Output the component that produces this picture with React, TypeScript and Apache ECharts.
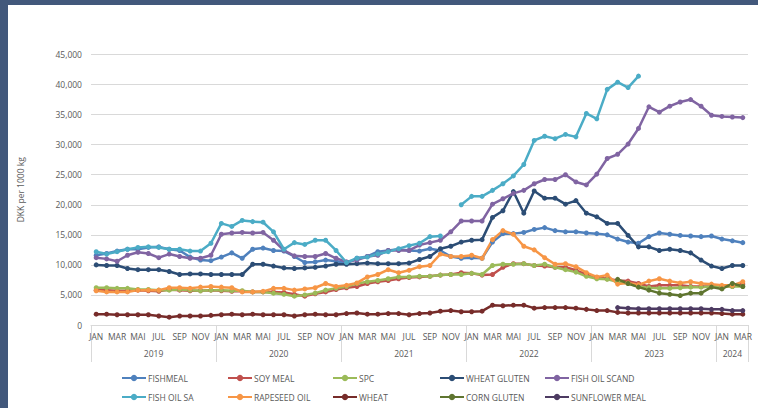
import React, { useEffect, useRef } from 'react';
import * as echarts from 'echarts';

const monthNames = ['JAN', 'FEB', 'MAR', 'APR', 'MAI', 'JUN', 'JUL', 'AUG', 'SEP', 'OKT', 'NOV', 'DEC'];
const years = ['2019', '2020', '2021', '2022', '2023', '2024'];
const monthsPerYear = [12, 12, 12, 12, 12, 3];
const yTicks = [0, 5000, 10000, 15000, 20000, 25000, 30000, 35000, 40000, 45000];

const fishmeal = [
  11600, 11900, 12300, 12600, 12600, 12900, 13000, 12600, 12400, 11300, 10800, 10700,
  11300, 12000, 11100, 12600, 12800, 12400, 12300, 11400, 10400, 10500, 10800, 10600,
  10300, 11100, 11400, 12200, 12400, 12600, 12400, 12300, 12700, 12400, 11400, 11100,
  11200, 11100, 13800, 15200, 15200, 15400, 15900, 16200, 15700, 15500, 15500, 15300,
  15200, 15000, 14300, 13800, 13600, 14700, 15300, 15100, 14900, 14800, 14700, 14800,
  14300, 14000, 13700,
];
const soyMeal = [
  5800, 5800, 5700, 5700, 5800, 5700, 5600, 5900, 5800, 5700, 5700, 5800,
  5700, 5600, 5600, 5500, 5500, 5500, 5400, 5100, 4800, 5200, 5500, 5900,
  6200, 6400, 6900, 7200, 7400, 7700, 7900, 8000, 8100, 8300, 8400, 8700,
  8600, 8300, 8400, 9600, 10200, 10200, 9900, 9800, 9600, 9600, 9100, 8400,
  7900, 7700, 7400, 7300, 6900, 6400, 6600, 6600, 6600, 6400, 6400, 6400,
  6400, 6400, 6800,
];
const spc = [
  6200, 6200, 6100, 6100, 5900, 5900, 5800, 5800, 5900, 5800, 5700, 5800,
  5800, 5700, 5700, 5500, 5500, 5300, 5100, 4800, 5000, 5300, 5800, 6100,
  6400, 6900, 7200, 7400, 7700, 8000, 8000, 8100, 8100, 8300, 8400, 8400,
  8600, 8400, 9900, 10100, 10100, 10200, 9900, 10100, 9600, 9200, 8800, 8100,
  7700, 7600, 7200, 6900, 6400, 6200, 6100, 6100, 6200, 6300, 6300, 6400,
  6400, 6400, 6400,
];
const wheatGluten = [
  10000, 9900, 9900, 9400, 9200, 9200, 9200, 8900, 8400, 8500, 8500, 8400,
  8400, 8400, 8400, 10100, 10100, 9800, 9500, 9400, 9500, 9600, 9800, 10100,
  10100, 10200, 10300, 10200, 10200, 10200, 10300, 10900, 11400, 12700, 13100, 13800,
  14100, 14200, 17900, 19000, 22200, 18600, 22300, 21100, 21100, 20100, 20700, 18600,
  18000, 16900, 16900, 14900, 13000, 13000, 12400, 12600, 12400, 12000, 10800, 9800,
  9400, 9900, 9900,
];
const fishOilScand = [
  11200, 11000, 10600, 11600, 12100, 11900, 11200, 11800, 11400, 11100, 11100, 11600,
  15100, 15300, 15400, 15300, 15400, 14100, 12400, 11500, 11400, 11400, 11900, 11100,
  10500, 10800, 11400, 11600, 12400, 12400, 12400, 13300, 13700, 14100, 15500, 17300,
  17300, 17300, 20100, 21000, 21900, 22400, 23500, 24200, 24200, 25000, 23800, 23300,
  25100, 27700, 28400, 30100, 32700, 36300, 35400, 36400, 37100, 37500, 36400, 34900,
  34700, 34600, 34500,
];
const fishOilSa = [
  12200, 11800, 12200, 12600, 12900, 13000, 12900, 12600, 12600, 12300, 12300, 13600,
  16900, 16400, 17400, 17200, 17100, 15500, 12600, 13700, 13400, 14100, 14100, 12400,
  10400, 11100, 11300, 11800, 12200, 12700, 13200, 13600, 14700, 14800, null, 20000,
  21400, 21400, 22400, 23500, 24800, 26700, 30700, 31400, 31000, 31700, 31300, 35200,
  34300, 39200, 40400, 39500, 41400, null, null, null, null, null, null, null,
  null, null, null,
];
const rapeseedOil = [
  5700, 5500, 5500, 5500, 5800, 5800, 5800, 6200, 6200, 6100, 6300, 6400,
  6300, 6200, 5500, 5500, 5600, 6100, 6100, 5800, 6000, 6200, 6900, 6400,
  6600, 7000, 8000, 8400, 9200, 8700, 9100, 9700, 9900, 11800, 11400, 11400,
  11600, 11100, 14200, 15700, 15100, 13100, 12500, 11200, 10100, 10200, 9700, 8700,
  8000, 8300, 6800, 7000, 6700, 7300, 7700, 7300, 7000, 7200, 6900, 6800,
  6600, 6600, 7200,
];
const wheat = [
  1800, 1800, 1700, 1700, 1700, 1700, 1500, 1300, 1500, 1500, 1500, 1600,
  1700, 1800, 1700, 1800, 1700, 1700, 1700, 1500, 1700, 1800, 1700, 1700,
  1900, 2000, 1800, 1800, 1900, 1900, 1700, 1900, 2000, 2300, 2400, 2200,
  2200, 2300, 3300, 3200, 3300, 3300, 2800, 2900, 2900, 2900, 2800, 2600,
  2400, 2400, 2100, 2000, 2000, 2000, 2000, 2000, 2000, 2000, 2000, 2000,
  1900, 1800, 1800,
];
const cornGluten = [
  null, null, null, null, null, null, null, null, null, null, null, null,
  null, null, null, null, null, null, null, null, null, null, null, null,
  null, null, null, null, null, null, null, null, null, null, null, null,
  null, null, null, null, null, null, null, null, null, null, null, null,
  null, null, 7600, 6900, 6300, 5800, 5300, 5100, 4900, 5300, 5300, 6300,
  6000, 6900, 6400,
];
const sunflowerMeal = [
  null, null, null, null, null, null, null, null, null, null, null, null,
  null, null, null, null, null, null, null, null, null, null, null, null,
  null, null, null, null, null, null, null, null, null, null, null, null,
  null, null, null, null, null, null, null, null, null, null, null, null,
  null, null, 2900, 2800, 2700, 2700, 2700, 2700, 2700, 2700, 2700, 2600,
  2600, 2400, 2400,
];

const seriesNames = ['FISHMEAL', 'SOY MEAL', 'SPC', 'WHEAT GLUTEN', 'FISH OIL SCAND', 'FISH OIL SA', 'RAPESEED OIL', 'WHEAT', 'CORN GLUTEN', 'SUNFLOWER MEAL'];
const seriesData = [fishmeal, soyMeal, spc, wheatGluten, fishOilScand, fishOilSa, rapeseedOil, wheat, cornGluten, sunflowerMeal];
const seriesColors = ['#4f81bd', '#c0504d', '#9bbb59', '#2c4d75', '#8064a2', '#4bacc6', '#f79646', '#772c2a', '#5f7530', '#4d3b62'];

const legendColumns = [
  ['FISHMEAL', 'FISH OIL SA'],
  ['SOY MEAL', 'RAPESEED OIL'],
  ['SPC', 'WHEAT'],
  ['WHEAT GLUTEN', 'CORN GLUTEN'],
  ['FISH OIL SCAND', 'SUNFLOWER MEAL'],
];
const legendLefts = [113, 219, 324, 431, 536];

const FONT = '"Open Sans", sans-serif';
const TXT = '#595959';

export default function App() {
  const ref = useRef<HTMLDivElement>(null);

  useEffect(() => {
    if (!ref.current) return;
    const chart = echarts.init(ref.current, null, { renderer: 'svg' });

    const categories: string[] = [];
    years.forEach((y, k) => {
      for (let m = 0; m < monthsPerYear[k]; m++) categories.push(monthNames[m]);
    });
    const total = categories.length;
    const bounds: number[] = [0];
    const mids: number[] = [];
    const yearAt: Record<string, string> = {};
    let acc = 0;
    years.forEach((y, k) => {
      const mid = acc + monthsPerYear[k] / 2;
      mids.push(mid);
      yearAt[String(mid)] = y;
      acc += monthsPerYear[k];
      bounds.push(acc);
    });

    chart.setOption({
      animation: false,
      grid: { left: 74, right: 10, top: 49.5, bottom: 83 },
      xAxis: [
        {
          type: 'category',
          data: categories,
          boundaryGap: true,
          axisLine: { lineStyle: { color: '#d9d9d9', width: 1 } },
          axisTick: { show: false },
          axisLabel: { interval: 1, color: TXT, fontSize: 8.5, fontFamily: FONT, margin: 7 },
          splitLine: { show: false },
        },
        {
          type: 'value',
          min: 0,
          max: total,
          position: 'bottom',
          axisLine: { show: false },
          splitLine: { show: false },
          axisTick: { show: true, customValues: bounds, length: 37, lineStyle: { color: '#d9d9d9' } },
          axisLabel: {
            customValues: mids,
            formatter: (v: number) => yearAt[String(v)] || '',
            color: TXT,
            fontSize: 8.5,
            fontFamily: FONT,
            margin: 24,
          },
        },
      ],
      yAxis: {
        type: 'value',
        min: yTicks[0],
        max: yTicks[yTicks.length - 1],
        interval: yTicks[1] - yTicks[0],
        name: 'DKK per 1000 kg',
        nameLocation: 'middle',
        nameGap: 66,
        nameTextStyle: { color: TXT, fontSize: 8.5, fontFamily: FONT },
        axisLine: { show: false },
        axisTick: { show: false },
        axisLabel: {
          color: TXT,
          fontSize: 8.5,
          fontFamily: FONT,
          margin: 9,
          formatter: (v: number) => v.toLocaleString('en-US'),
        },
        splitLine: { lineStyle: { color: '#d9d9d9', width: 1 } },
      },
      legend: legendColumns.map((col, k) => ({
        orient: 'vertical',
        left: legendLefts[k],
        top: 368.5,
        padding: 0,
        itemGap: 10,
        itemWidth: 24,
        itemHeight: 8,
        data: col,
        textStyle: { color: TXT, fontSize: 8.5, fontFamily: FONT, padding: [0, 0, 0, -3] },
      })),
      series: seriesNames.map((name, k) => ({
        name,
        type: 'line',
        xAxisIndex: 0,
        data: seriesData[k],
        connectNulls: false,
        symbol: 'circle',
        symbolSize: 5,
        showSymbol: true,
        color: seriesColors[k],
        lineStyle: { width: 2.5, color: seriesColors[k] },
        itemStyle: { color: seriesColors[k] },
      })),
    });

    return () => chart.dispose();
  }, []);

  return (
    <div style={{ position: 'fixed', left: 0, top: 0, width: 758, height: 408, background: '#42587b' }}>
      <div ref={ref} style={{ position: 'absolute', left: 8, top: 5, width: 750, height: 403, background: '#ffffff' }} />
    </div>
  );
}
